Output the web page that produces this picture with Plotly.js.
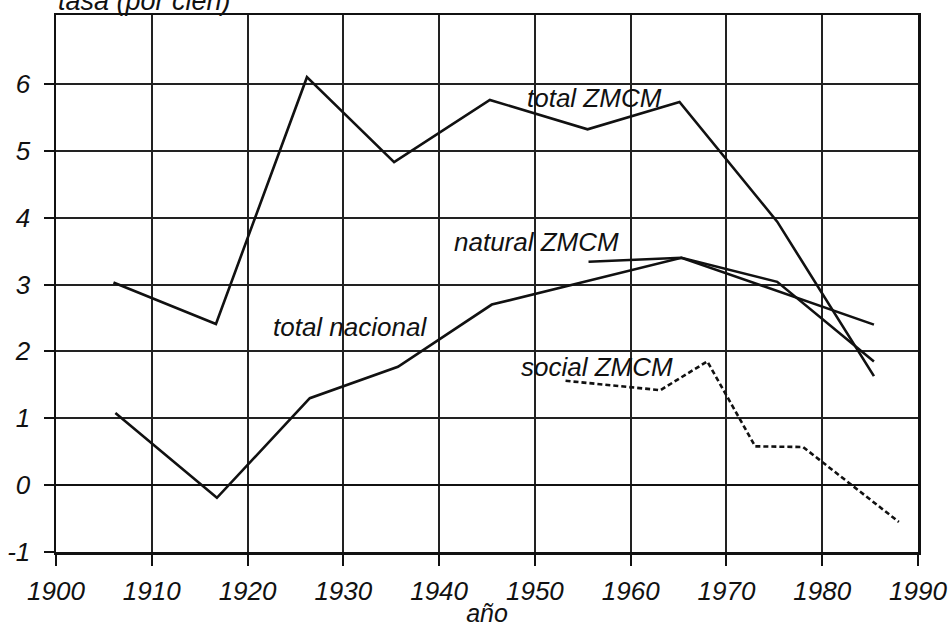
<!DOCTYPE html>
<html>
<head>
<meta charset="utf-8">
<script src="https://cdn.plot.ly/plotly-3.0.1.min.js"></script>
<style>html,body{margin:0;padding:0;background:#fff;}#chart{width:952px;height:627px;}</style>
</head>
<body>
<div id="chart"></div>
<script>
// Data
const totalZMCMYears = [1906.0, 1916.7, 1926.2, 1935.3, 1945.3, 1955.5, 1965.1, 1975.3, 1985.4];
const totalZMCMValues = [3.03, 2.41, 6.10, 4.83, 5.76, 5.32, 5.73, 3.94, 1.63];

const totalNacionalYears = [1906.2, 1916.8, 1926.5, 1935.7, 1945.5, 1965.3, 1985.4];
const totalNacionalValues = [1.08, -0.19, 1.30, 1.77, 2.70, 3.40, 2.40];

const naturalZMCMYears = [1955.6, 1965.3, 1975.3, 1985.4];
const naturalZMCMValues = [3.34, 3.40, 3.04, 1.85];

const socialZMCMYears = [1953.2, 1963.1, 1968.0, 1973.0, 1978.0, 1988.0];
const socialZMCMValues = [1.56, 1.42, 1.85, 0.58, 0.57, -0.55];

const xTickVals = [1900, 1910, 1920, 1930, 1940, 1950, 1960, 1970, 1980, 1990];
const yTickVals = [-1, 0, 1, 2, 3, 4, 5, 6];

const seriesLabels = [
  {text: 'total ZMCM', x: 1956.2, y: 5.79},
  {text: 'natural ZMCM', x: 1950.2, y: 3.63},
  {text: 'total nacional', x: 1930.7, y: 2.37},
  {text: 'social ZMCM', x: 1956.5, y: 1.77}
];

const FONT = 'Liberation Sans, Arial, Helvetica, sans-serif';
const lineStyle = {color: '#111', width: 2.6};

const traces = [
  {x: totalZMCMYears, y: totalZMCMValues, mode: 'lines', line: lineStyle, name: 'total ZMCM'},
  {x: totalNacionalYears, y: totalNacionalValues, mode: 'lines', line: lineStyle, name: 'total nacional'},
  {x: naturalZMCMYears, y: naturalZMCMValues, mode: 'lines', line: lineStyle, name: 'natural ZMCM'},
  {x: socialZMCMYears, y: socialZMCMValues, mode: 'lines', line: {color: '#111', width: 2.6, dash: '5px,3px'}, name: 'social ZMCM'}
];

const annotations = seriesLabels.map(l => ({
  x: l.x, y: l.y, xref: 'x', yref: 'y', text: l.text, showarrow: false,
  font: {family: FONT, size: 26, color: '#111', style: 'italic'}
}));
annotations.push({
  x: 0.0, y: 1, xref: 'paper', yref: 'paper', xanchor: 'left', yanchor: 'bottom', yshift: -3,
  text: 'tasa (por cien)', showarrow: false,
  font: {family: FONT, size: 27, color: '#111', style: 'italic'}
});

const layout = {
  width: 952, height: 627,
  margin: {l: 56, r: 34, t: 15, b: 75},
  paper_bgcolor: '#fff', plot_bgcolor: '#fff',
  showlegend: false,
  font: {family: FONT, color: '#111'},
  xaxis: {
    range: [1900, 1990], tickvals: xTickVals, ticktext: xTickVals.map(String),
    showgrid: true, gridcolor: '#222', gridwidth: 2,
    showline: true, linecolor: '#111', linewidth: 2.5, mirror: true,
    ticks: 'outside', ticklen: 11, tickwidth: 2, tickcolor: '#111',
    ticklabelstandoff: 3,
    tickfont: {family: FONT, size: 26, color: '#111', style: 'italic'},
    zeroline: false,
    title: {text: 'año', font: {family: FONT, size: 25, color: '#111', style: 'italic'}, standoff: 2}
  },
  yaxis: {
    range: [-1, 7.03], tickvals: yTickVals, ticktext: yTickVals.map(v => v < 0 ? '-' + Math.abs(v) : String(v)),
    showgrid: true, gridcolor: '#222', gridwidth: 2,
    showline: true, linecolor: '#111', linewidth: 2.5, mirror: true,
    ticks: 'outside', ticklen: 10, tickwidth: 2, tickcolor: '#111',
    ticklabelstandoff: 8,
    tickfont: {family: FONT, size: 26, color: '#111', style: 'italic'},
    zeroline: true, zerolinecolor: '#111', zerolinewidth: 2.5
  },
  annotations: annotations
};

Plotly.newPlot('chart', traces, layout, {displayModeBar: false, staticPlot: true});
</script>
</body>
</html>
